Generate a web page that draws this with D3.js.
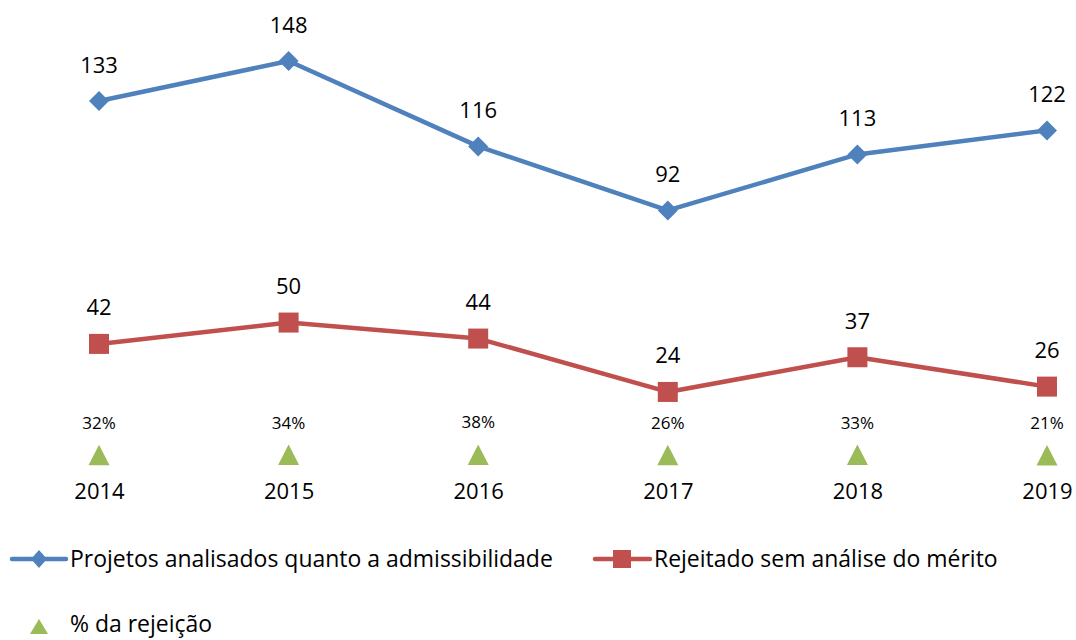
<!DOCTYPE html>
<html>
<head>
<meta charset="utf-8">
<script src="https://cdn.jsdelivr.net/npm/d3@7"></script>
<style>
  html, body { margin: 0; padding: 0; background: #fff; }
  svg { display: block; }
  text { font-family: "Open Sans", Lato, sans-serif; fill: #000; }
</style>
</head>
<body>
<svg id="chart" width="1076" height="640"></svg>
<script>
const years = ["2014", "2015", "2016", "2017", "2018", "2019"];
const analisados = [133, 148, 116, 92, 113, 122];
const rejeitados = [42, 50, 44, 24, 37, 26];
const pctRejeicao = [32, 34, 38, 26, 33, 21];
const seriesNames = ["Projetos analisados quanto a admissibilidade", "Rejeitado sem análise do mérito", "% da rejeição"];

const colors = { blue: "#4F81BD", red: "#C0504D", green: "#9BBB59" };
const FONT = "'Open Sans', Lato, sans-serif";

const svg = d3.select("#chart");
const x = d3.scalePoint().domain(years).range([99, 1047]);
const y = d3.scaleLinear().domain([0, 148]).range([456, 61]);

const line = d3.line().x(d => x(d.year)).y(d => y(d.v));

const blueData = years.map((yr, i) => ({ year: yr, v: analisados[i] }));
const redData = years.map((yr, i) => ({ year: yr, v: rejeitados[i] }));
const greenData = years.map((yr, i) => ({ year: yr, v: pctRejeicao[i] / 100, p: pctRejeicao[i] }));

const valueFont = 22;
const pctFont = 17;

// Year axis labels (no axis line)
const xAxis = d3.axisBottom(x).tickSize(0).tickPadding(0);
const gx = svg.append("g").attr("transform", "translate(0,482)").call(xAxis);
gx.select(".domain").remove();
gx.selectAll("text")
  .attr("dy", "0.78em")
  .attr("font-size", valueFont)
  .attr("font-family", FONT)
  .attr("fill", "#000");

// Blue line
svg.append("path").datum(blueData)
  .attr("d", line).attr("fill", "none")
  .attr("stroke", colors.blue).attr("stroke-width", 4.5)
  .attr("stroke-linejoin", "round").attr("stroke-linecap", "round");
svg.selectAll(".diamond").data(blueData).join("path")
  .attr("class", "diamond")
  .attr("transform", d => `translate(${x(d.year)},${y(d.v)})`)
  .attr("d", "M0,-10L10,0L0,10L-10,0Z")
  .attr("fill", colors.blue);
svg.selectAll(".blab").data(blueData).join("text")
  .attr("class", "blab")
  .attr("x", d => x(d.year)).attr("y", d => y(d.v) - 28.5)
  .attr("text-anchor", "middle").attr("font-size", valueFont)
  .text(d => d.v);

// Red line
svg.append("path").datum(redData)
  .attr("d", line).attr("fill", "none")
  .attr("stroke", colors.red).attr("stroke-width", 4.5)
  .attr("stroke-linejoin", "round").attr("stroke-linecap", "round");
svg.selectAll(".sq").data(redData).join("rect")
  .attr("class", "sq")
  .attr("x", d => x(d.year) - 10).attr("y", d => y(d.v) - 10)
  .attr("width", 20).attr("height", 20)
  .attr("fill", colors.red);
svg.selectAll(".rlab").data(redData).join("text")
  .attr("class", "rlab")
  .attr("x", d => x(d.year)).attr("y", d => y(d.v) - 28.5)
  .attr("text-anchor", "middle").attr("font-size", valueFont)
  .text(d => d.v);

// Green triangles
const tri = "M0,-10.5L10.5,10L-10.5,10Z";
svg.selectAll(".tri").data(greenData).join("path")
  .attr("class", "tri")
  .attr("transform", d => `translate(${x(d.year)},${y(d.v)})`)
  .attr("d", tri)
  .attr("fill", colors.green);
svg.selectAll(".glab").data(greenData).join("text")
  .attr("class", "glab")
  .attr("x", d => x(d.year)).attr("y", d => y(d.v) - 26.5)
  .attr("text-anchor", "middle").attr("font-size", pctFont)
  .text(d => d.p + "%");

// Legend
const lg = svg.append("g");
// blue
lg.append("line").attr("x1", 12).attr("x2", 66).attr("y1", 559).attr("y2", 559)
  .attr("stroke", colors.blue).attr("stroke-width", 4.5).attr("stroke-linecap", "round");
lg.append("path").attr("transform", "translate(39,559)").attr("d", "M0,-9L8,0L0,9L-8,0Z").attr("fill", colors.blue);
const t1 = lg.append("text").attr("x", 70).attr("y", 559).attr("dy", "0.36em").attr("font-size", 20).text(seriesNames[0]);
// red
lg.append("line").attr("x1", 595).attr("x2", 650).attr("y1", 559).attr("y2", 559)
  .attr("stroke", colors.red).attr("stroke-width", 4.5).attr("stroke-linecap", "round");
lg.append("rect").attr("x", 613).attr("y", 550).attr("width", 18).attr("height", 18).attr("fill", colors.red);
const t2 = lg.append("text").attr("x", 654).attr("y", 559).attr("dy", "0.36em").attr("font-size", 20).text(seriesNames[1]);
// green
lg.append("path").attr("transform", "translate(39,627)").attr("d", "M0,-8L9,7L-9,7Z").attr("fill", colors.green);
const t3 = lg.append("text").attr("x", 70).attr("y", 624).attr("dy", "0.36em").attr("font-size", 20).text(seriesNames[2]);

// fit legend font size so the first entry spans like the reference
const w = t1.node().getComputedTextLength();
const fs = 20 * 483 / w;
[t1, t2, t3].forEach(t => t.attr("font-size", fs));
</script>
</body>
</html>
